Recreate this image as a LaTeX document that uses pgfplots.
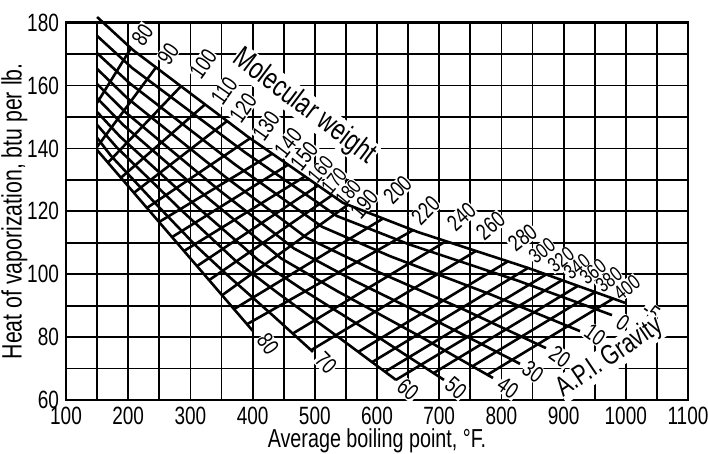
\documentclass[border=0pt]{standalone}
\usepackage{fontspec}
\setmainfont[FakeStretch=0.76]{Liberation Sans}
\usepackage{pgfplots}
\usepackage{pgfplotstable}
\pgfplotsset{compat=1.18}

% API gravity lines (top one first), pieces split by nan rows
\pgfplotstableread{
T H
150 181.8
207.7 171.3
392.6 143.7
545.3 122.7
665.9 113.4
842.8 102.0
998.7 90.9
nan nan
150 175.8
206.3 165.6
386.7 138.9
535.7 118.5
652.9 109.4
825.7 98.0
977.8 87.0
nan nan
150 170.3
202.6 160.7
371.7 134.9
511.6 115.1
621.5 105.7
783.6 93.5
926.4 81.9
nan nan
150 165.3
198.6 156.0
355.9 131.0
486.0 111.7
588.3 101.9
739.1 88.8
871.7 76.5
nan nan
150 160.5
195.7 151.5
343.9 127.1
466.4 108.2
562.7 98.0
704.8 84.2
829.9 71.5
nan nan
150 156.0
192.4 147.4
331.3 123.7
446.1 105.0
536.3 94.6
669.4 80.2
786.5 67.0
nan nan
150 151.6
186.8 143.8
308.7 121.8
409.2 104.5
488.3 94.1
605.0 79.6
707.7 66.4
nan nan
150 147.5
181.3 140.4
286.3 120.2
373.1 104.2
441.3 93.9
542.0 79.4
630.5 66.4
nan nan
150 143.4
171.7 137.8
247.7 121.7
310.6 108.7
360.1 99.6
433.0 86.8
497.1 75.3
nan nan
150 139.5
400.6 81.9
}\apilines

% molecular weight lines, 80 ... 400
\pgfplotstableread{
T H
150 154.5
204.5 171.9
nan nan
150 140.5
244.7 165.8
nan nan
167.5 135.5
284.9 159.8
nan nan
188.4 130.7
323.5 154.0
nan nan
209.3 125.9
358.8 148.7
nan nan
230.2 121.1
395.8 143.2
nan nan
249.5 116.6
431.2 138.3
nan nan
270.4 111.8
456.9 134.8
nan nan
289.7 107.4
484.2 131.1
nan nan
310.6 102.6
505.1 128.2
nan nan
329.9 98.1
527.6 125.1
nan nan
350.8 93.3
553.4 122.1
nan nan
370.1 88.9
609.6 117.7
nan nan
391.0 84.1
657.9 114.0
nan nan
464.3 81.1
710.9 110.5
nan nan
493.7 75.8
759.2 107.4
nan nan
569.9 75.3
810.6 104.1
nan nan
591.8 72.0
842.8 102.0
nan nan
612.2 68.9
871.7 99.9
nan nan
630.4 66.4
897.4 98.1
nan nan
690.5 68.5
923.1 96.3
nan nan
753.2 70.7
950.5 94.3
nan nan
776.5 67.9
979.4 92.2
}\mwlines

\begin{document}
\begin{tikzpicture}[lab/.style={font=\fontsize{11.5}{12}\selectfont, fill=white, inner sep=0.3pt},
                    labs/.style={font=\fontsize{10.5}{11}\selectfont, fill=white, inner sep=0.2pt}]
\begin{axis}[
    name=ax,
    width=311pt, height=188.65pt, scale only axis,
    xmin=100, xmax=1100, ymin=60, ymax=180,
    xtick={100,200,...,1100}, ytick={60,80,...,180},
    minor xtick={150,250,...,1050}, minor ytick={70,90,...,170},
    grid=both,
    major grid style={black, line width=0.9pt},
    minor grid style={black, line width=0.9pt},
    axis line style={black, line width=1.2pt},
    major tick length=0pt, minor tick length=0pt,
    tick label style={font=\fontsize{12.5}{13}\selectfont},
    /pgf/number format/assume math mode=true,
    /pgf/number format/1000 sep={},
    xlabel={Average boiling point, °F.},
    ylabel={Heat of vaporization, btu per lb.},
    xlabel style={font=\fontsize{13}{14}\selectfont, yshift=5pt},
    ylabel style={font=\fontsize{14}{15}\selectfont, yshift=-7pt},
    clip=false,
    unbounded coords=jump,
  ]
  % molecular weight labels
  \node[lab, rotate=55] at (axis cs:223.0,176.2) {80};
  \node[lab, rotate=55] at (axis cs:264.2,170.1) {90};
  \node[lab, rotate=55] at (axis cs:320.4,166.9) {100};
  \node[lab, rotate=55] at (axis cs:354.2,158.3) {110};
  \node[lab, rotate=55] at (axis cs:384.7,152.9) {120};
  \node[lab, rotate=55] at (axis cs:421.7,147.2) {130};
  \node[lab, rotate=52] at (axis cs:457.1,141.8) {140};
  \node[lab, rotate=52] at (axis cs:482.8,137.6) {150};
  \node[labs, rotate=50] at (axis cs:509.1,133.3) {160};
  \node[labs, rotate=50] at (axis cs:531.0,129.7) {170};
  \node[labs, rotate=50] at (axis cs:553.6,125.9) {180};
  \node[lab, rotate=50] at (axis cs:579.3,122.4) {190};
  \node[lab, rotate=45] at (axis cs:632.9,126.8) {200};
  \node[lab, rotate=45] at (axis cs:678.0,120.2) {220};
  \node[lab, rotate=42] at (axis cs:735.8,118.3) {240};
  \node[lab, rotate=40] at (axis cs:782.5,115.4) {260};
  \node[lab, rotate=38] at (axis cs:833.9,111.6) {280};
  \node[labs, rotate=38] at (axis cs:865.1,107.4) {300};
  \node[labs, rotate=38] at (axis cs:895.6,104.6) {320};
  \node[labs, rotate=38] at (axis cs:921.3,102.3) {340};
  \node[labs, rotate=38] at (axis cs:947.0,100.8) {360};
  \node[labs, rotate=38] at (axis cs:972.8,98.2) {380};
  \node[labs, rotate=38] at (axis cs:1001.7,95.7) {400};
  \node[lab, rotate=-37, font=\fontsize{15}{16}\selectfont] at (axis cs:483.0,153.2) {Molecular weight};
  % API gravity labels
  \node[lab, rotate=-55] at (axis cs:424.8,77.8) {80};
  \node[lab, rotate=-45] at (axis cs:518.0,71.8) {70};
  \node[lab, rotate=-40] at (axis cs:649.8,63.2) {60};
  \node[lab, rotate=-40] at (axis cs:727.0,63.8) {50};
  \node[lab, rotate=-35] at (axis cs:810.6,63.8) {40};
  \node[lab, rotate=-35] at (axis cs:850.8,68.9) {30};
  \node[lab, rotate=-35] at (axis cs:894.2,73.7) {20};
  \node[lab, rotate=-35] at (axis cs:950.5,80.7) {10};
  \node[lab, rotate=-35] at (axis cs:995.5,84.5) {0};
  \node[lab, rotate=-35] at (axis cs:1040.5,88.0) {-5};
  \node[lab, rotate=34, font=\fontsize{14}{15}\selectfont] at (axis cs:974.6,73.4) {A.P.I.\,Gravity};

  \addplot[black, line width=1.3pt, line join=round] table[x=T, y=H] {\apilines};
  \addplot[black, line width=1.3pt, line join=round] table[x=T, y=H] {\mwlines};
\end{axis}
\pgfresetboundingbox
\path ([xshift=-33pt,yshift=-27pt]ax.south west) rectangle ([xshift=10pt,yshift=11.35pt]ax.north east);
\end{tikzpicture}
\end{document}
